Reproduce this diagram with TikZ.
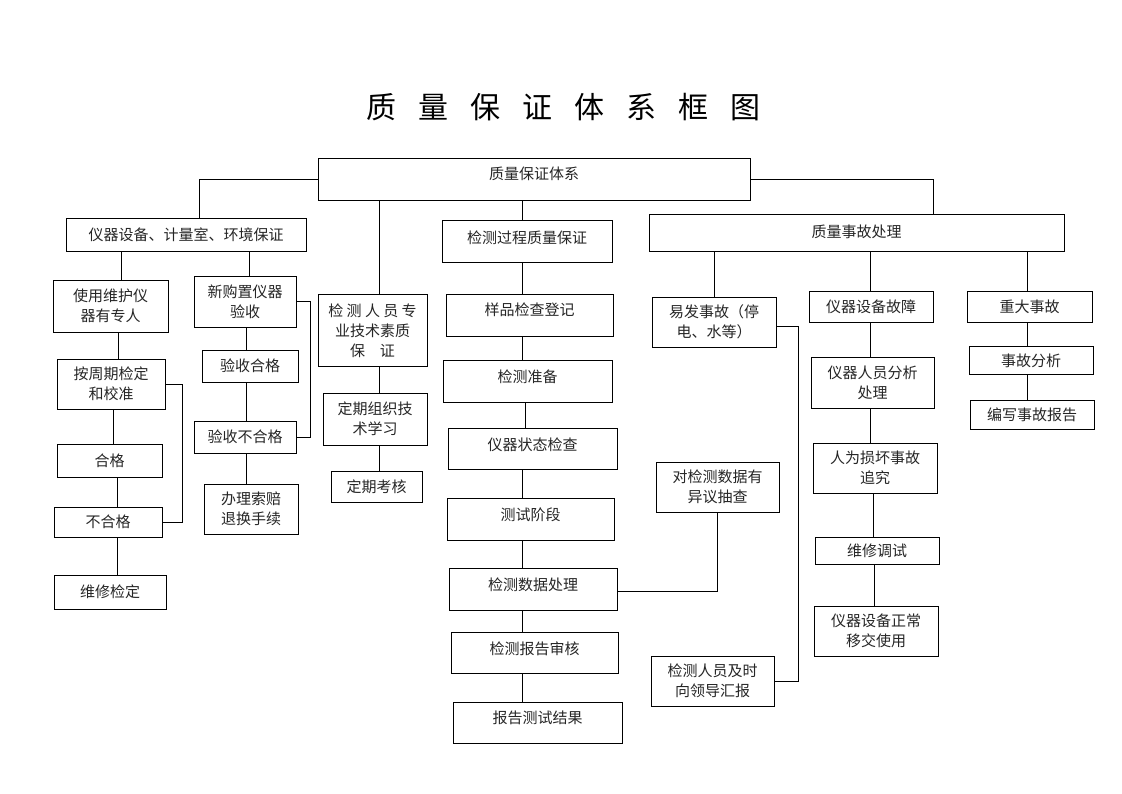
\documentclass[tikz,border=0pt]{standalone}
\usepackage{fontspec}
\setmainfont{Noto Sans CJK SC}
\newfontfamily\cjk{Noto Sans CJK SC}
\tikzset{
  box/.style={draw, line width=1pt, rectangle, inner sep=0pt, outer sep=0pt},
  txt/.style={inner sep=0pt, align=center, text=black!85, font=\cjk\fontsize{15pt}{20pt}\selectfont},
  conn/.style={line width=1pt},
}
\newcommand\bx[7]{%
  \node[box, minimum width={(#4)-(#2)}, minimum height={(#5)-(#3)}] (#1) at ({((#2)+(#4))/2},{((#3)+(#5))/2}) {};
  \node[txt] (#1t) at ([yshift=#6pt]#1.center) {#7};
}
\begin{document}
\begin{tikzpicture}[x=1pt,y=-1pt]
\useasboundingbox[fill=white] (0,0) rectangle (1122,793);
% title
\node[inner sep=0pt, font=\cjk\fontsize{30pt}{30pt}\selectfont] (title) at (563.5,107)
  {质\hspace{22pt}量\hspace{22pt}保\hspace{22pt}证\hspace{22pt}体\hspace{22pt}系\hspace{22pt}框\hspace{22pt}图};
% boxes
\bx{root}{318}{158}{750}{200}{5}{质量保证体系}
\bx{A}{66}{218}{306}{251}{0}{仪器设备、计量室、环境保证}
\bx{P}{318}{294}{427}{366}{-1}{检 测 人 员 专\\业技术素质\\保\hspace{1em}证}
\bx{Q}{442}{220}{612}{262}{3}{检测过程质量保证}
\bx{F}{649}{214}{1064}{251}{1}{质量事故处理}
\bx{U}{53}{280}{168}{332}{0}{使用维护仪\\器有专人}
\bx{N}{194}{276}{296}{327}{0}{新购置仪器\\验收}
\bx{C}{57}{359}{165}{409}{0}{按周期检定\\和校准}
\bx{H}{57}{444}{162}{477}{0}{合格}
\bx{BH}{54}{507}{162}{537}{0}{不合格}
\bx{W}{54}{575}{166}{609}{0}{维修检定}
\bx{NH}{202}{350}{298}{382}{0}{验收合格}
\bx{NB}{194}{421}{296}{453}{0}{验收不合格}
\bx{NL}{204}{484}{298}{534}{0}{办理索赔\\退换手续}
\bx{PA}{323}{393}{427}{445}{0}{定期组织技\\术学习}
\bx{PB}{331}{471}{422}{502}{0}{定期考核}
\bx{QA}{446}{294}{613}{336}{5}{样品检查登记}
\bx{QB}{443}{360}{612}{402}{4}{检测准备}
\bx{QC}{448}{428}{617}{469}{4}{仪器状态检查}
\bx{QD}{447}{498}{614}{540}{4}{测试阶段}
\bx{QE}{449}{568}{617}{610}{4}{检测数据处理}
\bx{QF}{451}{632}{618}{673}{4}{检测报告审核}
\bx{QG}{453}{702}{622}{743}{5}{报告测试结果}
\bx{D}{656}{462}{779}{512}{0}{对检测数据有\\异议抽查}
\bx{R}{651}{656}{774}{706}{0}{检测人员及时\\向领导汇报}
\bx{E}{652}{297}{776}{347}{0}{易发事故（停\\电、水等）}
\bx{G}{809}{291}{933}{322}{0}{仪器设备故障}
\bx{GA}{811}{357}{934}{408}{0}{仪器人员分析\\处理}
\bx{GB}{813}{443}{937}{493}{0}{人为损坏事故\\追究}
\bx{GC}{815}{537}{939}{564}{0}{维修调试}
\bx{GD}{814}{606}{938}{656}{0}{仪器设备正常\\移交使用}
\bx{M}{967}{291}{1092}{322}{0}{重大事故}
\bx{MA}{969}{346}{1093}{374}{-1}{事故分析}
\bx{MB}{970}{400}{1094}{429}{0}{编写事故报告}
% connectors
\draw[conn] (root.west) -| (A.north -| 199,0);
\draw[conn] (root.east) -| (F.north -| 933,0);
\draw[conn] (root.south -| 379,0) -- (P.north -| 379,0);
\draw[conn] (root.south -| 522,0) -- (Q.north -| 522,0);
\draw[conn] (A.south -| 121,0) -- (U.north -| 121,0);
\draw[conn] (A.south -| 249,0) -- (N.north -| 249,0);
\draw[conn] (U.south -| 118,0) -- (C.north -| 118,0);
\draw[conn] (C.south -| 113,0) -- (H.north -| 113,0);
\draw[conn] (H.south -| 117,0) -- (BH.north -| 117,0);
\draw[conn] (BH.south -| 117,0) -- (W.north -| 117,0);
\draw[conn] (C.east) -- ++(17,0) |- (BH.east);
\draw[conn] (N.east) -- ++(14,0) |- (NB.east);
\draw[conn] (N.south -| 246,0) -- (NH.north -| 246,0);
\draw[conn] (NH.south -| 246,0) -- (NB.north -| 246,0);
\draw[conn] (NB.south -| 246,0) -- (NL.north -| 246,0);
\draw[conn] (P.south -| 379,0) -- (PA.north -| 379,0);
\draw[conn] (PA.south -| 379,0) -- (PB.north -| 379,0);
\draw[conn] (Q.south -| 522,0) -- (QA.north -| 522,0);
\draw[conn] (QA.south -| 522,0) -- (QB.north -| 522,0);
\draw[conn] (QB.south -| 525,0) -- (QC.north -| 525,0);
\draw[conn] (QC.south -| 522,0) -- (QD.north -| 522,0);
\draw[conn] (QD.south -| 522,0) -- (QE.north -| 522,0);
\draw[conn] (QE.south -| 522,0) -- (QF.north -| 522,0);
\draw[conn] (QF.south -| 522,0) -- (QG.north -| 522,0);
\draw[conn] ([yshift=-2pt]QE.east) -| (D.south -| 717,0);
\draw[conn] (F.south -| 714,0) -- (E.north -| 714,0);
\draw[conn] (F.south -| 870,0) -- (G.north -| 870,0);
\draw[conn] (F.south -| 1027,0) -- (M.north -| 1027,0);
\draw[conn] ([yshift=-4pt]E.east) -- ++(22,0) |- (R.east);
\draw[conn] (G.south -| 870,0) -- (GA.north -| 870,0);
\draw[conn] (GA.south -| 870,0) -- (GB.north -| 870,0);
\draw[conn] (GB.south -| 873,0) -- (GC.north -| 873,0);
\draw[conn] (GC.south -| 874,0) -- (GD.north -| 874,0);
\draw[conn] (M.south -| 1027,0) -- (MA.north -| 1027,0);
\draw[conn] (MA.south -| 1027,0) -- (MB.north -| 1027,0);
\end{tikzpicture}
\end{document}
